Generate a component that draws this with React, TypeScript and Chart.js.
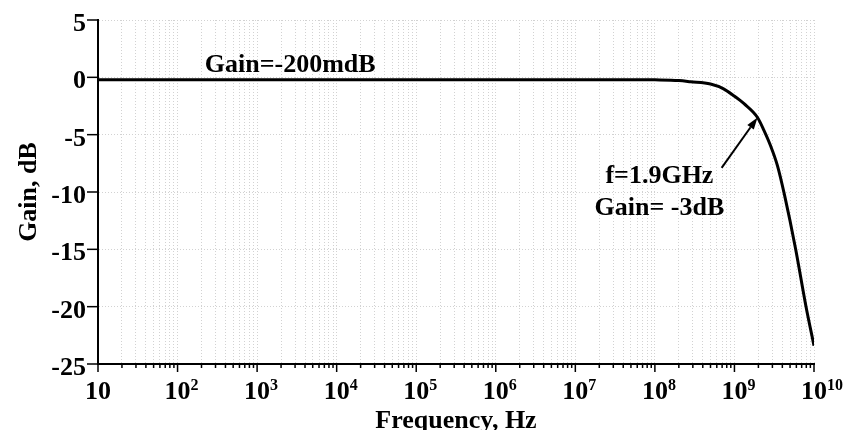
import React, { useEffect, useRef } from "react";
import { Chart, registerables } from "chart.js";

Chart.register(...registerables);

// ---- data ----
const freqHz = [
  10, 1e2, 1e3, 1e4, 1e5, 1e6, 1e7, 5e7, 1e8, 2e8, 2.8e8, 5e8, 7.3e8, 9.8e8,
  1.32e9, 1.95e9, 2.34e9, 2.82e9, 3.47e9, 4.27e9, 5.85e9, 7.94e9, 1e10,
];
const gainDb = [
  -0.2, -0.2, -0.2, -0.2, -0.2, -0.2, -0.2, -0.2, -0.22, -0.28, -0.38, -0.58,
  -1.0, -1.6, -2.3, -3.5, -4.6, -5.9, -7.7, -10.3, -14.9, -20.0, -23.4,
];

const xDecadeExponents = [1, 2, 3, 4, 5, 6, 7, 8, 9, 10];
const xMinorMultipliers = [1, 2, 3, 4, 5, 6, 7, 8, 9];
const yTickValues = [5, 0, -5, -10, -15, -20, -25];

const xAxisTitle = "Frequency, Hz";
const yAxisTitle = "Gain, dB";
const flatLabel = "Gain=-200mdB";
const cornerLabels = ["f=1.9GHz", "Gain= -3dB"];

// annotation anchors in data coordinates (frequency, gain)
const flatLabelFreq = 220;
const flatLabelGain = 0.45;
const cornerLabelFreq = 1.14e8;
const cornerLabelGains = [-9.25, -12.0];
const arrowFromFreq = 6.9e8;
const arrowFromGain = -7.9;
const arrowToFreq = 1.95e9;
const arrowToGain = -3.5;

const FONT = '"Liberation Serif", "Times New Roman", Times, serif';

function buildXTicks() {
  const ticks: { value: number; major: boolean }[] = [];
  for (let i = 0; i < xDecadeExponents.length - 1; i++) {
    const e = xDecadeExponents[i];
    for (const m of xMinorMultipliers) {
      ticks.push({ value: Number((m * Math.pow(10, e)).toPrecision(12)), major: m === 1 });
    }
  }
  ticks.push({ value: Math.pow(10, xDecadeExponents[xDecadeExponents.length - 1]), major: true });
  return ticks;
}

const drawPlugin = {
  id: "paperText",
  afterDraw(chart: any) {
    const { ctx, chartArea, scales } = chart;
    const xs = scales.x;
    const ys = scales.y;
    ctx.save();
    ctx.fillStyle = "#000";
    ctx.strokeStyle = "#000";

    // x tick marks
    ctx.lineWidth = 1.5;
    xs.ticks.forEach((t: any) => {
      const px = xs.getPixelForValue(t.value);
      const len = t.major ? 8 : 4;
      ctx.beginPath();
      ctx.moveTo(px, chartArea.bottom);
      ctx.lineTo(px, chartArea.bottom + len);
      ctx.stroke();
    });

    // y tick marks
    yTickValues.forEach((v) => {
      const py = ys.getPixelForValue(v);
      ctx.beginPath();
      ctx.moveTo(chartArea.left - 11, py);
      ctx.lineTo(chartArea.left, py);
      ctx.stroke();
    });

    // y tick labels
    ctx.font = `bold 26px ${FONT}`;
    ctx.textAlign = "right";
    ctx.textBaseline = "alphabetic";
    yTickValues.forEach((v) => {
      const py = ys.getPixelForValue(v);
      ctx.fillText(String(v), chartArea.left - 12, py + 11);
    });

    // x tick labels (10 with superscript exponent)
    xDecadeExponents.forEach((e) => {
      const px = xs.getPixelForValue(Math.pow(10, e));
      const base = chartArea.bottom + 35;
      ctx.font = `bold 26px ${FONT}`;
      ctx.textAlign = "center";
      ctx.fillText("10", px, base);
      if (e > 1) {
        const w = ctx.measureText("10").width;
        ctx.font = `bold 16px ${FONT}`;
        ctx.textAlign = "left";
        ctx.fillText(String(e), px + w / 2, base - 9);
      }
    });

    // axis titles
    ctx.font = `bold 26px ${FONT}`;
    ctx.textAlign = "center";
    ctx.fillText(xAxisTitle, (chartArea.left + chartArea.right) / 2, chartArea.bottom + 63.5);

    ctx.save();
    ctx.translate(36, (chartArea.top + chartArea.bottom) / 2);
    ctx.rotate(-Math.PI / 2);
    ctx.textAlign = "center";
    ctx.fillText(yAxisTitle, 0, 0);
    ctx.restore();

    // annotations
    ctx.textAlign = "left";
    ctx.fillText(flatLabel, xs.getPixelForValue(flatLabelFreq), ys.getPixelForValue(flatLabelGain));
    ctx.textAlign = "center";
    cornerLabels.forEach((txt, i) => {
      ctx.fillText(txt, xs.getPixelForValue(cornerLabelFreq), ys.getPixelForValue(cornerLabelGains[i]));
    });

    // arrow
    const x1 = xs.getPixelForValue(arrowFromFreq);
    const y1 = ys.getPixelForValue(arrowFromGain);
    const x2 = xs.getPixelForValue(arrowToFreq);
    const y2 = ys.getPixelForValue(arrowToGain);
    const ang = Math.atan2(y2 - y1, x2 - x1);
    const headLen = 12;
    const headHalf = 4;
    const bx = x2 - headLen * Math.cos(ang);
    const by = y2 - headLen * Math.sin(ang);
    ctx.lineWidth = 2;
    ctx.beginPath();
    ctx.moveTo(x1, y1);
    ctx.lineTo(bx, by);
    ctx.stroke();
    ctx.beginPath();
    ctx.moveTo(x2, y2);
    ctx.lineTo(bx + headHalf * Math.sin(ang), by - headHalf * Math.cos(ang));
    ctx.lineTo(bx - headHalf * Math.sin(ang), by + headHalf * Math.cos(ang));
    ctx.closePath();
    ctx.fill();

    ctx.restore();
  },
};

export default function App() {
  const canvasRef = useRef<HTMLCanvasElement | null>(null);

  useEffect(() => {
    const canvas = canvasRef.current;
    if (!canvas) return;
    const gridColor = "#d2d2d2";
    const chart = new Chart(canvas, {
      type: "line",
      data: {
        datasets: [
          {
            data: freqHz.map((f, i) => ({ x: f, y: gainDb[i] })),
            borderColor: "#000",
            borderWidth: 3,
            pointRadius: 0,
            fill: false,
            cubicInterpolationMode: "monotone",
          },
        ],
      },
      options: {
        animation: false,
        responsive: false,
        devicePixelRatio: 1,
        layout: { padding: { left: 0, right: 29, top: 20, bottom: 0 } },
        plugins: {
          legend: { display: false },
          tooltip: { enabled: false },
          title: { display: false },
        },
        scales: {
          x: {
            type: "logarithmic",
            min: 10,
            max: 1e10,
            afterBuildTicks: (s: any) => {
              s.ticks = buildXTicks();
            },
            afterFit: (s: any) => {
              s.height = 66;
            },
            ticks: { display: false },
            grid: { color: gridColor, lineWidth: 1, drawTicks: false },
            border: { display: true, color: "#000", width: 2, dash: [1, 2] },
          },
          y: {
            type: "linear",
            min: -25,
            max: 5,
            afterBuildTicks: (s: any) => {
              s.ticks = yTickValues.map((v) => ({ value: v }));
            },
            afterFit: (s: any) => {
              s.width = 98;
            },
            ticks: { display: false },
            grid: { color: gridColor, lineWidth: 1, drawTicks: false },
            border: { display: true, color: "#000", width: 2, dash: [1, 2] },
          },
        },
      } as any,
      plugins: [drawPlugin],
    });
    return () => chart.destroy();
  }, []);

  return (
    <div style={{ position: "fixed", left: 0, top: 0, width: 843, height: 430, background: "#fff" }}>
      <canvas ref={canvasRef} width={843} height={430} style={{ display: "block" }} />
    </div>
  );
}
